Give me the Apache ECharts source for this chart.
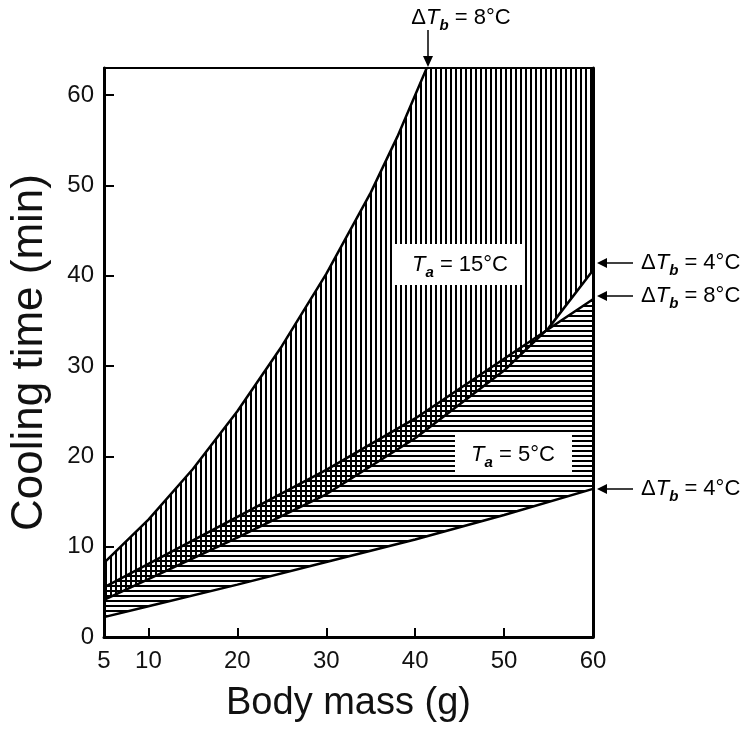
<!DOCTYPE html>
<html>
<head>
<meta charset="utf-8">
<title>Cooling time vs body mass</title>
<script src="https://cdn.jsdelivr.net/npm/echarts@6/dist/echarts.min.js"></script>
<style>
  html, body { margin: 0; padding: 0; background: #fff; }
  #chart { width: 750px; height: 736px; }
</style>
</head>
<body>
<div id="chart"></div>
<script>
// Ta = 15°C, ΔTb = 8°C  (top edge of the vertical hatching)
const massHot8 = [5, 10, 15, 20, 25, 30, 35, 38, 41.3]
const timeHot8 = [8.2, 13.0, 18.6, 25.0, 32.2, 40.2, 49.2, 55.4, 63]
// Ta = 15°C, ΔTb = 4°C  (bottom edge of the vertical hatching)
const massHot4 = [5, 10, 20, 30, 40, 50, 55, 60]
const timeHot4 = [4.1, 6.4, 11.0, 15.8, 22.0, 29.5, 34.2, 40.6]
// Ta = 5°C, ΔTb = 8°C  (top edge of the horizontal hatching)
const massCold8 = [5, 10, 20, 30, 40, 50, 55, 60]
const timeCold8 = [5.5, 8.1, 13.3, 18.5, 24.2, 30.8, 34.1, 37.4]
// Ta = 5°C, ΔTb = 4°C  (bottom edge of the horizontal hatching)
const massCold4 = [5, 10, 20, 30, 40, 50, 60]
const timeCold4 = [2.2, 3.4, 5.8, 8.3, 10.8, 13.5, 16.4]

const xLabelValues = [5, 10, 20, 30, 40, 50, 60]
const xTickValues = [10, 20, 30, 40, 50, 60]
const yTickValues = [0, 10, 20, 30, 40, 50, 60]
const xMin = 5
const xMax = 60
const yMin = 0
const yMax = 63

const FONT = 'Liberation Sans, Arial, Helvetica, sans-serif'

/**
 * 画一块小画布当作填充花纹
 * @param vertical true 竖线, false 横线
 */
function hatch (vertical) {
  let c = document.createElement('canvas')
  c.width = 5
  c.height = 5
  let ctx = c.getContext('2d')
  ctx.fillStyle = '#000'
  if (vertical) {
    ctx.fillRect(0, 0, 2, 5)
  } else {
    ctx.fillRect(0, 0, 5, 2)
  }
  return c
}

function pairs (xs, ys) {
  return xs.map((x, i) => [x, ys[i]])
}

/**
 * 两条曲线之间的区域 (custom series, 用坐标轴换算)
 */
function regionSeries (upper, lower, pattern) {
  return {
    type: 'custom',
    silent: true,
    clip: true,
    z: 1,
    data: [[xMin, yMin]],
    renderItem (params, api) {
      let pts = []
      for (let p of upper) pts.push(api.coord(p))
      for (let i = lower.length - 1; i >= 0; i--) pts.push(api.coord(lower[i]))
      return {
        type: 'polygon',
        shape: { points: pts },
        style: { fill: { type: 'pattern', image: pattern, repeat: 'repeat' }, stroke: null }
      }
    }
  }
}

function curveSeries (data) {
  return {
    type: 'line',
    data: data,
    symbol: 'none',
    silent: true,
    z: 5,
    lineStyle: { color: '#000', width: 2.5 }
  }
}

const hot8 = pairs(massHot8, timeHot8)
const hot4 = pairs(massHot4, timeHot4)
const cold8 = pairs(massCold8, timeCold8)
const cold4 = pairs(massCold4, timeCold4)

let chart = echarts.init(document.getElementById('chart'))

// T 斜体, 下标 a / b 粗斜体往下沉
let richLabel = function (size) {
  let lh = Math.round(size * 1.4)
  let sub = Math.round(size * 0.7)
  return {
    t: { fontFamily: FONT, fontSize: size, lineHeight: lh, fontStyle: 'italic', color: '#000' },
    s: { fontFamily: FONT, fontSize: sub, lineHeight: sub, fontStyle: 'italic', fontWeight: 'bold', color: '#000', verticalAlign: 'bottom' },
    n: { fontFamily: FONT, fontSize: size, lineHeight: lh, color: '#000' }
  }
}

function arrowLabel (x, y, text, align) {
  return { type: 'text', x: x, y: y, z: 11, style: { text: text, align: align, verticalAlign: 'middle', rich: richLabel(22) } }
}

// 右侧水平箭头, 尖端贴着右边框
function leftArrow (y) {
  return [
    { type: 'line', shape: { x1: 633, y1: y, x2: 606, y2: y }, style: { stroke: '#000', lineWidth: 1.5 }, z: 11 },
    { type: 'polygon', shape: { points: [[607, y - 5], [607, y + 5], [597, y]] }, style: { fill: '#000' }, z: 11 }
  ]
}

let option = {
  backgroundColor: '#fff',
  animation: false,
  grid: { left: 103, right: 157, top: 68, bottom: 99 },
  xAxis: [
    {
      type: 'value',
      min: xMin,
      max: xMax,
      position: 'bottom',
      name: 'Body mass (g)',
      nameLocation: 'middle',
      nameGap: 48,
      nameTextStyle: { fontFamily: FONT, fontSize: 38, color: '#111' },
      axisLine: { show: true, onZero: false, lineStyle: { color: '#000', width: 3 } },
      axisTick: { show: true, inside: true, length: 9, customValues: xTickValues, lineStyle: { color: '#000', width: 2 } },
      axisLabel: { customValues: xLabelValues, fontFamily: FONT, fontSize: 24, color: '#111', margin: 12 },
      splitLine: { show: false }
    },
    {
      // 上边框
      type: 'value',
      min: xMin,
      max: xMax,
      position: 'top',
      axisLine: { show: true, onZero: false, lineStyle: { color: '#000', width: 2 } },
      axisTick: { show: false },
      axisLabel: { show: false },
      splitLine: { show: false }
    }
  ],
  yAxis: [
    {
      type: 'value',
      min: yMin,
      max: yMax,
      position: 'left',
      name: 'Cooling time (min)',
      nameLocation: 'middle',
      nameGap: 52,
      nameTextStyle: { fontFamily: FONT, fontSize: 44, color: '#111' },
      axisLine: { show: true, onZero: false, lineStyle: { color: '#000', width: 3 } },
      axisTick: { show: true, inside: true, length: 10, customValues: yTickValues, lineStyle: { color: '#000', width: 2 } },
      axisLabel: { customValues: yTickValues, fontFamily: FONT, fontSize: 24, color: '#111', margin: 10 },
      splitLine: { show: false }
    },
    {
      // 右边框
      type: 'value',
      min: yMin,
      max: yMax,
      position: 'right',
      axisLine: { show: true, onZero: false, lineStyle: { color: '#000', width: 3 } },
      axisTick: { show: false },
      axisLabel: { show: false },
      splitLine: { show: false }
    }
  ],
  series: [
    // 竖线区域 Ta = 15°C, 上边沿曲线到顶后沿上边框走到右边
    regionSeries(hot8.concat([[xMax, yMax]]), hot4, hatch(true)),
    // 横线区域 Ta = 5°C
    regionSeries(cold8, cold4, hatch(false)),
    curveSeries(hot8),
    curveSeries(hot4),
    curveSeries(cold8),
    curveSeries(cold4)
  ],
  graphic: [
    // Ta = 15°C 标签
    { type: 'rect', shape: { x: 395, y: 244, width: 130, height: 41 }, style: { fill: '#fff' }, z: 10 },
    { type: 'text', x: 460, y: 265, z: 11, style: { text: '{t|T}{s|a}{n| = 15°C}', align: 'center', verticalAlign: 'middle', rich: richLabel(22) } },
    // Ta = 5°C 标签
    { type: 'rect', shape: { x: 455, y: 435, width: 117, height: 40 }, style: { fill: '#fff' }, z: 10 },
    { type: 'text', x: 513, y: 455, z: 11, style: { text: '{t|T}{s|a}{n| = 5°C}', align: 'center', verticalAlign: 'middle', rich: richLabel(22) } },
    // 顶部箭头
    arrowLabel(461, 18, '{n|Δ}{t|T}{s|b}{n| = 8°C}', 'center'),
    { type: 'line', shape: { x1: 428, y1: 30, x2: 428, y2: 58 }, style: { stroke: '#000', lineWidth: 1.5 }, z: 11 },
    { type: 'polygon', shape: { points: [[423, 56], [433, 56], [428, 67]] }, style: { fill: '#000' }, z: 11 },
    // 右侧箭头
    ...leftArrow(263),
    arrowLabel(641, 263, '{n|Δ}{t|T}{s|b}{n| = 4°C}', 'left'),
    ...leftArrow(296),
    arrowLabel(641, 296, '{n|Δ}{t|T}{s|b}{n| = 8°C}', 'left'),
    ...leftArrow(489),
    arrowLabel(641, 489, '{n|Δ}{t|T}{s|b}{n| = 4°C}', 'left')
  ]
}

chart.setOption(option)
</script>
</body>
</html>
